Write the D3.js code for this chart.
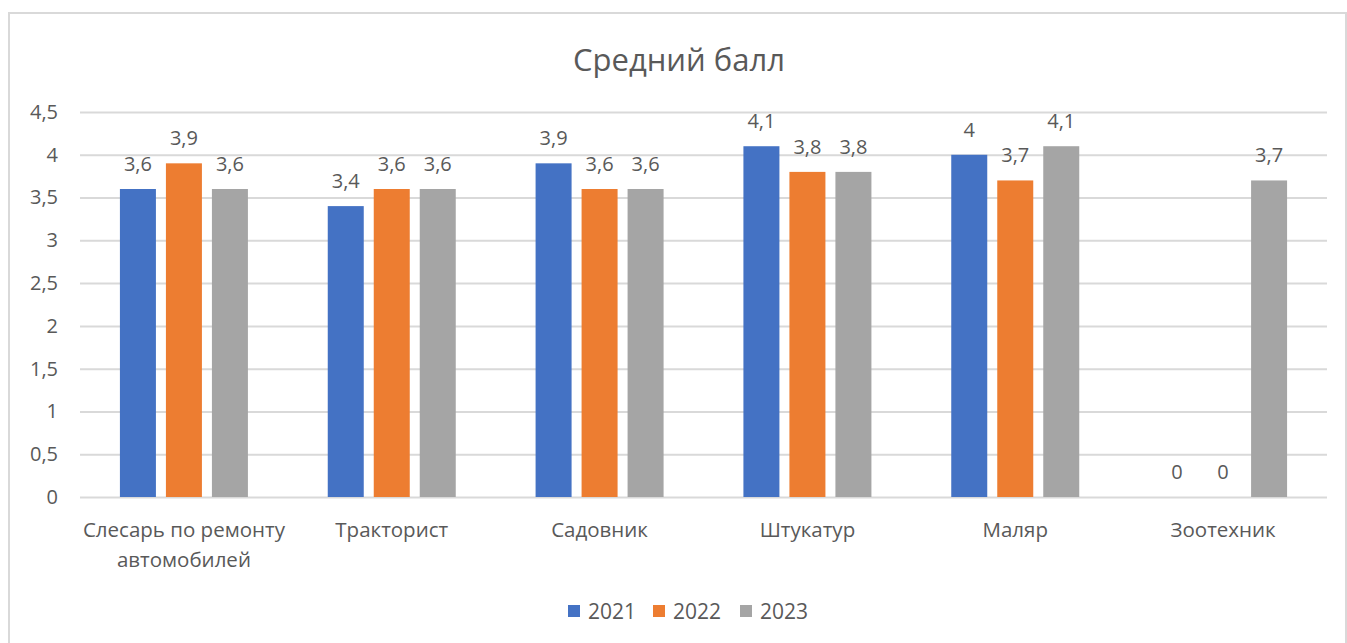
<!DOCTYPE html>
<html>
<head>
<meta charset="utf-8">
<script src="https://cdn.jsdelivr.net/npm/d3@7"></script>
<style>
  body { margin: 0; background: #fff; }
  text { font-family: "Open Sans", "Noto Sans", sans-serif; fill: #595959; }
</style>
</head>
<body>
<div id="chart"></div>
<script>
const categories = [["Слесарь по ремонту", "автомобилей"], ["Тракторист"], ["Садовник"], ["Штукатур"], ["Маляр"], ["Зоотехник"]]
const years = ["2021", "2022", "2023"]
const values2021 = [3.6, 3.4, 3.9, 4.1, 4, 0]
const values2022 = [3.9, 3.6, 3.6, 3.8, 3.7, 0]
const values2023 = [3.6, 3.6, 3.6, 3.8, 4.1, 3.7]
const yTicks = [0, 0.5, 1, 1.5, 2, 2.5, 3, 3.5, 4, 4.5]
const colours = ["#4472C4", "#ED7D31", "#A5A5A5"]

const W = 1347, H = 643
const svg = d3.select("#chart").append("svg").attr("width", W).attr("height", H)

// outer frame
svg.append("rect")
  .attr("x", 9).attr("y", 13).attr("width", 1337).attr("height", 640)
  .attr("fill", "#fff").attr("stroke", "#d9d9d9").attr("stroke-width", 2)

svg.append("text")
  .attr("x", 679).attr("y", 71)
  .attr("text-anchor", "middle")
  .style("font-size", "31px")
  .text("Средний балл")

const plotLeft = 80, plotRight = 1327, plotTop = 112, plotBottom = 497

const x0 = d3.scaleBand().domain(d3.range(categories.length)).range([plotLeft, plotRight]).padding(0)
const groupW = 128
const x1 = d3.scaleBand().domain(years)
  .range([(x0.bandwidth() - groupW) / 2, (x0.bandwidth() + groupW) / 2])
  .paddingInner(10 / 46)
const y = d3.scaleLinear().domain([0, 4.5]).range([plotBottom, plotTop])
const fmt = v => String(v).replace(".", ",")

// gridlines
svg.append("g")
  .attr("transform", "translate(" + plotLeft + ",0)")
  .call(d3.axisLeft(y).tickValues(yTicks).tickSize(-(plotRight - plotLeft)).tickFormat(""))
  .call(g => g.select(".domain").remove())
  .call(g => g.selectAll("line").attr("stroke", "#d9d9d9").attr("stroke-width", 2))

// y labels
svg.append("g")
  .attr("transform", "translate(" + (plotLeft - 19) + ",0)")
  .call(d3.axisLeft(y).tickValues(yTicks).tickSize(0).tickFormat(fmt))
  .call(g => g.select(".domain").remove())
  .call(g => g.selectAll("text").style("font-size", "20px").attr("fill", "#595959"))

const series = [values2021, values2022, values2023]
const rows = []
series.forEach((vals, s) => vals.forEach((v, i) => rows.push({ i: i, s: s, v: v })))

const bars = svg.append("g")
bars.selectAll("rect")
  .data(rows)
  .enter()
  .append("rect")
    .attr("x", d => x0(d.i) + x1(years[d.s]))
    .attr("y", d => y(d.v))
    .attr("width", x1.bandwidth())
    .attr("height", d => y(0) - y(d.v))
    .attr("fill", d => colours[d.s])

bars.selectAll("text")
  .data(rows)
  .enter()
  .append("text")
    .attr("x", d => x0(d.i) + x1(years[d.s]) + x1.bandwidth() / 2)
    .attr("y", d => y(d.v) - 18)
    .attr("text-anchor", "middle")
    .style("font-size", "20px")
    .text(d => fmt(d.v))

// category labels
const cats = svg.append("g")
categories.forEach((lines, i) => {
  const t = cats.append("text")
    .attr("x", x0(i) + x0.bandwidth() / 2)
    .attr("y", 537)
    .attr("text-anchor", "middle")
    .style("font-size", "20.5px")
  lines.forEach((l, k) => {
    t.append("tspan").attr("x", x0(i) + x0.bandwidth() / 2).attr("dy", k ? 30 : 0).text(l)
  })
})

// legend
const legendX = [568, 653, 740]
const legend = svg.append("g")
legend.selectAll("rect")
  .data(years)
  .enter()
  .append("rect")
    .attr("x", (d, i) => legendX[i])
    .attr("y", 605)
    .attr("width", 12).attr("height", 12)
    .attr("fill", (d, i) => colours[i])
legend.selectAll("text")
  .data(years)
  .enter()
  .append("text")
    .attr("x", (d, i) => legendX[i] + 20)
    .attr("y", 619)
    .style("font-size", "21px")
    .text(d => d)
</script>
</body>
</html>
